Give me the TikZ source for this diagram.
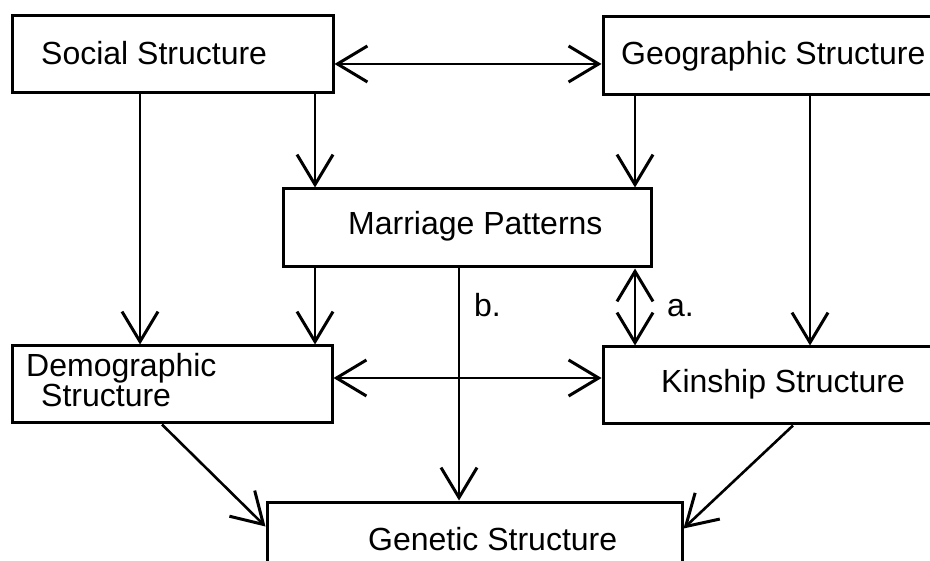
\documentclass[tikz,border=0pt]{standalone}
\usepackage{fontspec}
\setmainfont{Liberation Sans}
\usetikzlibrary{arrows.meta,calc}
\tikzset{
  box/.style={draw, line width=3pt, rectangle, inner sep=0pt},
  txt/.style={anchor=base west, inner sep=0pt, font=\fontsize{32}{30}\selectfont},
  tip/.tip={Straight Barb[length=30pt,width=36pt,line width=3pt]},
  arr/.style={line width=2.6pt, -tip},
  darr/.style={line width=2.6pt, tip-tip},
}
\begin{document}
\begin{tikzpicture}[x=1pt,y=-1pt]
\useasboundingbox (0,0) rectangle (930,561);
\clip (0,0) rectangle (930,561);
% boxes
\node[box, minimum width=321pt, minimum height=77pt] (soc) at (172.5,54.5) {};
\node[box, minimum width=357pt, minimum height=78pt] (geo) at (781.5,56) {};
\node[box, minimum width=368pt, minimum height=78pt] (mar) at (467,228) {};
\node[box, minimum width=320pt, minimum height=77pt] (dem) at (172,384.5) {};
\node[box, minimum width=357pt, minimum height=77pt] (kin) at (781.5,385.5) {};
\node[box, minimum width=415pt, minimum height=88pt] (gen) at (474.5,546) {};
% texts
\node[txt] (tsoc) at (41,65) {Social Structure};
\node[txt] (tgeo) at (621,65) {Geographic Structure};
\node[txt] (tmar) at (348,235) {Marriage Patterns};
\node[txt] (tdem1) at (26,377) {Demographic};
\node[txt] (tdem2) at (41,407) {Structure};
\node[txt] (tkin) at (661,393) {Kinship Structure};
\node[txt] (tgen) at (368,550) {Genetic Structure};
\node[txt] (lb) at (474,317) {b.};
\node[txt] (la) at (667,317) {a.};
% reference coordinates
\coordinate (x140) at (140,0);
\coordinate (x315) at (315,0);
\coordinate (x635) at (635,0);
\coordinate (x810) at (810,0);
\coordinate (x459) at (459,0);
\coordinate (x162) at (162,0);
\coordinate (x793) at (793,0);
\coordinate (y64) at (0,64);
\coordinate (y378) at (0,378);
% connectors
\draw[darr] (soc.east |- y64) -- (geo.west |- y64);
\draw[arr] (soc.south -| x140) -- (dem.north -| x140);
\draw[arr] (soc.south -| x315) -- (mar.north -| x315);
\draw[arr] (geo.south -| x635) -- (mar.north -| x635);
\draw[arr] (geo.south -| x810) -- (kin.north -| x810);
\draw[arr] (mar.south -| x315) -- (dem.north -| x315);
\draw[arr] (mar.south -| x459) -- (gen.north -| x459);
\draw[darr] (mar.south -| x635) -- (kin.north -| x635);
\draw[darr] (dem.east |- y378) -- (kin.west |- y378);
\draw[arr] (dem.south -| x162) -- ($(gen.north west)+(0,26)$);
\draw[arr] (kin.south -| x793) -- ($(gen.north east)+(0,28)$);
\end{tikzpicture}
\end{document}
